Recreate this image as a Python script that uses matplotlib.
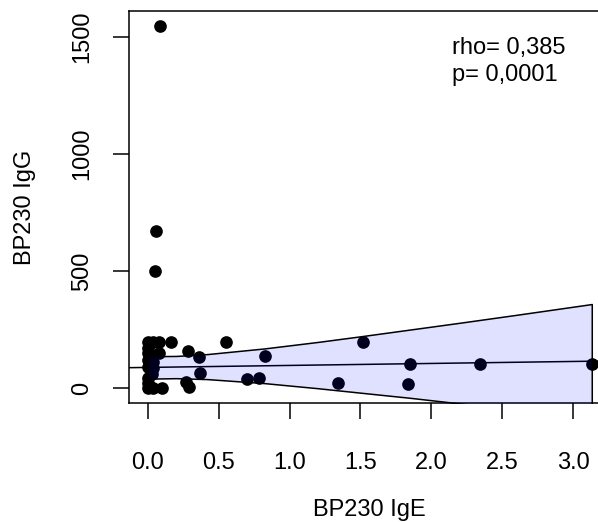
import matplotlib
matplotlib.use('Agg')
import matplotlib.pyplot as plt

plt.rcParams['font.family'] = ['Liberation Sans', 'DejaVu Sans']

# ---- data ----
ige = [0.087, 0.059, 0.054,
       0.0, 0.035, 0.08, 0.167, 0.555, 1.515,
       0.0, 0.0, 0.08, 0.284,
       0.36, 0.825, 0.0,
       0.04, 0.04, 0.0, 0.03, 0.367,
       0.0, 0.70, 0.785, 0.268,
       0.0, 1.34, 1.835,
       0.0, 0.035, 0.10, 0.29,
       1.85, 2.34, 3.13]
igg = [1548, 672, 500,
       198, 198, 198, 198, 198, 198,
       170, 148, 148, 159,
       134, 137, 120,
       110, 85, 90, 60, 65,
       42, 38, 41, 27,
       20, 20, 17,
       0, 0, 0, 6,
       103, 103, 103]

# fitted line and its confidence band
reg_intercept = 88
reg_slope = 8.5
band_x = [0.0, 0.2, 0.42, 0.82, 1.2, 1.5, 1.85, 2.2, 2.6, 3.13]
band_hi = [136, 137, 145, 169, 197, 221, 250, 279, 313, 359]
band_lo = [40, 42, 38, 21, -1, -20, -42, -66, -93, -130]

xticks = [0.0, 0.5, 1.0, 1.5, 2.0, 2.5, 3.0]
xticklabels = ["0.0", "0.5", "1.0", "1.5", "2.0", "2.5", "3.0"]
yticks = [0, 500, 1000, 1500]
yticklabels = ["0", "500", "1000", "1500"]
xlabel = "BP230 IgE"
ylabel = "BP230 IgG"
stat_lines = ["rho= 0,385", "p= 0,0001"]

W, H = 598, 522
fig = plt.figure(figsize=(W / 100, H / 100), dpi=100)
ax = fig.add_axes([128.5 / W, 1 - 402.5 / H, 481 / W, 391.5 / H])
ax.set_xlim(-0.135, 3.255)
ax.set_ylim(-62, 1612)

ax.scatter(ige, igg, s=83, c='black', linewidths=0, zorder=2)
ax.axline((0, reg_intercept), slope=reg_slope, color='black', lw=1.1, zorder=3)
ax.fill_between(band_x, band_lo, band_hi, facecolor=(0, 0, 1, 0.12),
                edgecolor='black', linewidth=1.1, zorder=4)

for s in ax.spines.values():
    s.set_linewidth(1.1)

ax.set_xticks(xticks)
ax.set_xticklabels(xticklabels)
ax.set_yticks(yticks)
ax.set_yticklabels(yticklabels, rotation=90, va='center')
ax.tick_params(axis='both', length=11.5, width=1.1, labelsize=17)
ax.tick_params(axis='x', pad=24)
ax.tick_params(axis='y', pad=14)

fig.text(369 / W, 1 - 510 / H, xlabel, fontsize=17, ha='center', va='center')
fig.text(25 / W, 1 - 207 / H, ylabel, fontsize=17, ha='center', va='center',
         rotation=90)

ax.text(2.145, 1455, stat_lines[0], fontsize=17, ha='left', va='center')
ax.text(2.145, 1340, stat_lines[1], fontsize=17, ha='left', va='center')

fig.savefig('out.png', dpi=100)
